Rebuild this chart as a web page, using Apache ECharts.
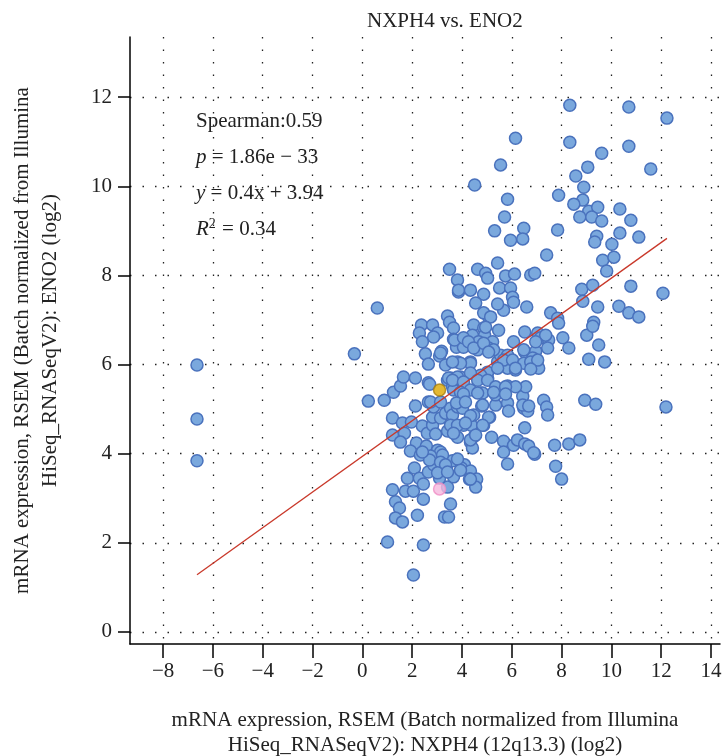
<!DOCTYPE html>
<html>
<head>
<meta charset="utf-8">
<script src="https://cdn.jsdelivr.net/npm/echarts@6/dist/echarts.min.js"></script>
<style>
  html, body { margin: 0; padding: 0; background: #fff; }
  #chart { width: 728px; height: 756px; }
</style>
</head>
<body>
<div id="chart"></div>
<script>
// NXPH4 (x) vs ENO2 (y)
var nxph4 = [
  -6.64, -6.64, -6.64, -0.32, 0.60, 0.24, 0.88, 1.25, 1.53, 1.65, 2.13, 2.13, 1.21, 1.61, 1.97, 1.69, 1.21, 1.53, 2.17, 2.41,
  2.61, 2.37, 2.29, 2.41, 2.53, 2.65, 2.65, 2.65, 1.93, 2.33, 2.57, 2.82, 2.94, 3.02, 3.14, 2.74, 3.42, 3.74, 3.82, 4.06,
  4.34, 4.42, 4.51, 4.38, 4.87, 5.11, 4.47, 4.79, 5.35, 5.83, 5.87, 6.44, 6.56, 6.48, 6.64, 6.52, 7.28, 7.40, 7.44, 5.19,
  5.67, 5.67, 5.83, 6.07, 6.23, 6.52, 6.68, 6.92, 7.72, 8.29, 8.73, 7.76, 8.00, 8.93, 9.37, 2.09, 1.81, 2.29, 2.45, 1.21,
  1.73, 2.05, 3.42, 2.65, 2.86, 3.10, 3.38, 3.66, 3.62, 4.10, 3.98, 4.34, 4.59, 4.55, 4.30, 2.45, 1.33, 1.49, 3.54, 2.21,
  1.33, 1.61, 3.30, 3.46, 1.01, 2.45, 2.05, 3.22, 2.82, 3.14, 3.34, 2.86, 3.54, 2.74, 3.14, 3.62, 3.82, 2.70, 3.14, 3.34,
  3.82, 3.02, 3.42, 2.41, 3.54, 2.82, 3.02, 2.86, 3.42, 3.50, 3.66, 3.66, 3.78, 3.18, 3.10, 3.34, 3.54, 2.70, 3.42, 3.62,
  3.86, 3.82, 3.94, 3.66, 8.33, 10.70, 12.23, 6.15, 8.33, 10.70, 9.61, 5.55, 9.05, 11.58, 8.57, 8.89, 4.51, 7.88, 5.83, 8.85,
  8.49, 9.09, 9.45, 8.73, 9.21, 9.61, 10.34, 10.78, 5.71, 5.31, 6.48, 5.95, 6.44, 7.84, 9.41, 9.33, 10.34, 11.10, 10.02, 7.40,
  5.43, 9.65, 10.10, 9.81, 3.50, 4.63, 4.95, 5.03, 5.75, 6.11, 6.76, 6.92, 3.82, 10.78, 12.07, 8.81, 9.25, 8.85, 9.45, 10.30,
  10.70, 11.10, 3.86, 4.34, 4.87, 5.51, 5.95, 6.03, 6.07, 5.67, 5.43, 4.55, 6.60, 5.07, 4.87, 4.47, 4.87, 5.47, 4.42, 4.91,
  5.23, 4.67, 4.06, 3.70, 6.07, 6.52, 7.04, 7.56, 7.84, 7.88, 7.16, 7.48, 7.44, 8.05, 8.29, 9.01, 9.29, 9.25, 9.49, 9.09,
  9.73, 6.52, 6.96, 6.88, 7.08, 6.84, 5.43, 5.83, 6.15, 5.55, 5.07, 4.63, 4.34, 5.03, 5.03, 4.75, 5.35, 5.83, 6.15, 12.19,
  6.88, 5.07, 4.02, 3.14, 3.46, 5.15, 4.95, 4.06, 4.26, 4.47, 4.87, 5.27, 5.07, 7.36, 6.96, 6.48, 5.83, 5.67, 6.03, 6.48,
  6.76, 7.04, 6.76, 6.15, 5.43, 4.75, 4.34, 3.94, 3.62, 4.34, 3.82, 3.62, 4.06, 4.63, 5.03, 5.35, 5.75, 4.34, 3.94, 4.83,
  4.06, 4.63, 5.27, 5.75, 3.78, 4.14, 4.83, 6.44, 6.68, 4.34, 4.83, 3.82, 4.14, 3.66, 4.34, 4.55, 3.94, 4.34
];
var eno2 = [
  5.99, 4.78, 3.84, 6.24, 7.27, 5.18, 5.20, 5.38, 5.52, 5.72, 5.70, 5.07, 4.80, 4.69, 4.71, 4.46, 4.42, 4.26, 4.24, 4.62,
  4.46, 6.89, 6.71, 6.51, 6.24, 6.01, 5.59, 5.16, 4.06, 3.97, 4.17, 4.64, 4.44, 4.08, 4.04, 3.95, 4.51, 4.60, 4.37, 4.64,
  4.26, 4.13, 4.40, 4.64, 4.64, 4.82, 4.87, 5.07, 5.09, 5.14, 4.96, 5.29, 5.50, 5.02, 4.96, 4.58, 5.20, 5.05, 4.87, 4.37,
  4.28, 4.04, 3.77, 4.19, 4.31, 4.22, 4.17, 3.99, 4.19, 4.22, 4.31, 3.72, 3.43, 5.20, 5.11, 3.68, 3.45, 3.45, 3.32, 3.19,
  3.16, 3.16, 3.25, 3.59, 3.75, 3.45, 3.72, 3.48, 3.84, 3.75, 3.68, 3.61, 3.43, 3.25, 3.43, 2.98, 2.92, 2.78, 2.87, 2.62,
  2.56, 2.47, 2.58, 2.58, 2.02, 1.95, 1.28, 3.97, 4.82, 4.80, 4.91, 5.05, 5.02, 5.16, 5.16, 4.87, 5.05, 3.86, 3.81, 3.75,
  3.88, 3.57, 3.59, 4.04, 4.64, 6.89, 6.71, 6.62, 7.09, 6.95, 6.82, 6.57, 6.39, 6.30, 6.19, 5.99, 5.70, 5.56, 5.65, 5.50,
  7.63, 6.06, 5.72, 5.43, 11.82, 11.78, 11.53, 11.08, 10.99, 10.90, 10.74, 10.48, 10.43, 10.39, 10.23, 9.98, 10.03, 9.80, 9.71, 9.69,
  9.60, 9.44, 9.53, 9.31, 9.31, 9.22, 9.49, 9.24, 9.31, 9.00, 9.06, 8.79, 8.82, 9.02, 8.88, 8.75, 8.95, 8.86, 8.70, 8.46,
  8.28, 8.34, 8.41, 8.10, 8.14, 8.14, 8.05, 7.94, 7.99, 8.03, 8.01, 8.05, 7.90, 7.76, 7.60, 7.69, 7.78, 7.42, 7.29, 7.31,
  7.16, 7.07, 7.67, 7.67, 7.58, 7.72, 7.72, 7.51, 7.40, 7.22, 7.36, 7.38, 7.29, 7.07, 7.16, 6.89, 6.82, 6.77, 6.66, 6.66,
  6.51, 6.51, 6.39, 6.55, 6.51, 6.73, 6.71, 7.16, 7.04, 6.93, 6.60, 6.55, 6.37, 6.60, 6.37, 6.66, 6.95, 6.86, 6.44, 6.12,
  6.06, 6.28, 6.30, 6.03, 5.92, 6.15, 6.06, 5.92, 5.88, 6.21, 6.37, 6.33, 6.06, 5.70, 5.83, 5.36, 5.32, 5.52, 5.50, 5.05,
  4.02, 4.82, 5.02, 6.26, 5.70, 7.07, 6.84, 6.60, 6.51, 6.37, 6.48, 6.33, 6.28, 6.66, 6.51, 6.33, 6.21, 6.10, 6.10, 6.03,
  6.06, 6.10, 5.90, 5.92, 5.92, 5.76, 6.03, 6.03, 6.06, 5.81, 5.72, 5.65, 5.61, 5.65, 5.65, 5.50, 5.50, 5.43, 5.38, 5.36,
  5.34, 5.36, 5.38, 5.34, 5.14, 5.16, 5.09, 5.09, 5.07, 4.85, 4.64, 4.64, 4.69, 4.46, 4.31, 4.42, 3.63, 3.43
];
// the two highlighted samples
var orangePoint = [3.10, 5.43];
var pinkPoint = [3.10, 3.21];

// linear fit from the annotation
var fitSlope = 0.4, fitIntercept = 3.94;
var xTicks = [-8, -6, -4, -2, 0, 2, 4, 6, 8, 10, 12, 14];
var yTicks = [0, 2, 4, 6, 8, 10, 12];

var points = [];
for (var i = 0; i < nxph4.length; i++) {
    points.push([nxph4[i], eno2[i]]);
}
var xMin = Math.min.apply(null, nxph4), xMax = Math.max.apply(null, nxph4);
var fitLine = [[xMin, fitSlope * xMin + fitIntercept], [xMax, fitSlope * xMax + fitIntercept]];

var serif = '"Liberation Serif", "DejaVu Serif", serif';
var fs = 21;
var minusFmt = function (v) { return String(v).replace('-', '\u2212'); };
var gridLine = { show: true, lineStyle: { color: '#222', type: [1.5, 11], width: 1.3 } };

var myChart = echarts.init(document.getElementById('chart'));
var option = {
    animation: false,
    title: {
        text: 'NXPH4 vs. ENO2',
        left: 362, top: 6,
        textStyle: { fontFamily: serif, fontSize: fs, fontWeight: 'normal', color: '#222' }
    },
    grid: { left: 130, top: 37, right: 8, bottom: 112, containLabel: false, outerBoundsMode: 'none' },
    xAxis: {
        type: 'value',
        min: -9.33, max: 14.36,
        name: 'mRNA expression, RSEM (Batch normalized from Illumina\nHiSeq_RNASeqV2): NXPH4 (12q13.3) (log2)',
        nameLocation: 'middle', nameGap: 64,
        nameTextStyle: { fontFamily: serif, fontSize: fs, color: '#222', lineHeight: 25 },
        axisLine: { onZero: false, lineStyle: { color: '#000', width: 1.5 } },
        axisTick: { show: true, length: 14, customValues: xTicks, lineStyle: { color: '#000', width: 1.5 } },
        axisLabel: { customValues: xTicks, formatter: minusFmt, fontFamily: serif, fontSize: fs, color: '#222', margin: 17 },
        splitLine: gridLine
    },
    yAxis: {
        type: 'value',
        min: -0.27, max: 13.35,
        name: 'mRNA expression, RSEM (Batch normalized from Illumina\nHiSeq_RNASeqV2): ENO2 (log2)',
        nameLocation: 'middle', nameGap: 66,
        nameTextStyle: { fontFamily: serif, fontSize: fs, color: '#222', lineHeight: 28 },
        axisLine: { show: true, onZero: false, lineStyle: { color: '#000', width: 1.5 } },
        axisTick: { show: true, length: 12, customValues: yTicks, lineStyle: { color: '#000', width: 1.5 } },
        axisLabel: { customValues: yTicks, fontFamily: serif, fontSize: fs, color: '#222', margin: 18 },
        splitLine: gridLine
    },
    graphic: [{
        type: 'text', left: 196, top: 103,
        style: {
            text: 'Spearman:0.59\n{i|p} = 1.86e \u2212 33\n{i|y} = 0.4x + 3.94\n{i|R}{s|2} = 0.34',
            fontFamily: serif, fontSize: fs, fill: '#222', lineHeight: 36,
            rich: {
                i: { fontFamily: serif, fontSize: fs, fontStyle: 'italic', fill: '#222', lineHeight: 36 },
                s: { fontFamily: serif, fontSize: 14, fill: '#222', lineHeight: 14, padding: [0, 1, 10, 0] }
            }
        }
    }],
    series: [
        {
            name: 'samples', type: 'scatter', symbolSize: 12,
            itemStyle: { color: '#7aa8dd', borderColor: '#4a72bd', borderWidth: 1.5, opacity: 1 },
            data: points, z: 2
        },
        {
            name: 'fit', type: 'line', data: fitLine, symbol: 'none',
            lineStyle: { color: '#c9392b', width: 1.3 }, z: 3
        },
        {
            name: 'highlight', type: 'scatter', symbolSize: 12, z: 4,
            data: [
                { value: orangePoint, itemStyle: { color: '#dca700', borderColor: '#a87f10', borderWidth: 1.5 } },
                { value: pinkPoint, itemStyle: { color: '#f5b8de', borderColor: '#f08fc6', borderWidth: 1.5 } }
            ]
        }
    ]
};
myChart.setOption(option);
</script>
</body>
</html>
